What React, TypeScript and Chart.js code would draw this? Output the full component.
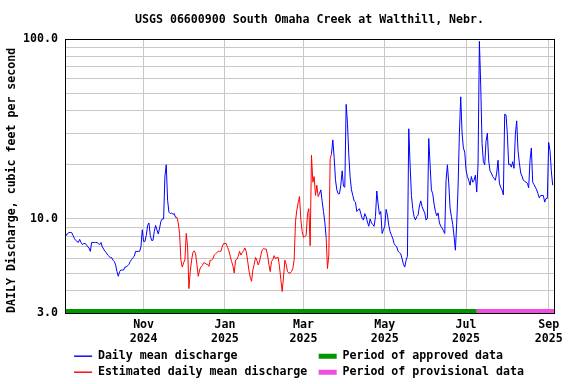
import { useEffect, useRef } from 'react';
import { Chart, registerables } from 'chart.js';

Chart.register(...registerables);

// ---- data (day 0 = 2024-09-03) ----
const dischargeCfs: number[] = [
  8.5, 8.1, 8.3, 8.4, 8.4, 8.4, 8.1, 7.8, 7.6, 7.5,
  7.4, 7.7, 7.4, 7.2, 7.3, 7.3, 7.2, 7.0, 6.9, 6.6,
  7.4, 7.4, 7.4, 7.4, 7.4, 7.3, 7.2, 7.4, 7.0, 6.8,
  6.6, 6.5, 6.3, 6.2, 6.1, 6.1, 5.9, 5.8, 5.55, 5.1,
  4.8, 5.1, 5.2, 5.2, 5.2, 5.4, 5.4, 5.5, 5.6, 5.8,
  5.95, 6.1, 6.2, 6.6, 6.6, 6.6, 6.6, 7.0, 8.7, 7.5,
  7.5, 8.1, 9.2, 9.5, 8.1, 7.6, 7.6, 8.5, 9.2, 8.7,
  8.25, 8.9, 9.7, 10.0, 10.0, 17.3, 20.0, 12.7, 10.9, 10.7,
  10.8, 10.6, 10.7, 10.2, 10.2, 9.5, 8.3, 5.9, 5.4, 5.7,
  5.95, 8.3, 7.0, 4.1, 5.1, 5.9, 6.5, 6.65, 6.4, 5.6,
  4.8, 5.2, 5.4, 5.5, 5.7, 5.7, 5.6, 5.6, 5.45, 5.9,
  5.9, 6.0, 6.3, 6.4, 6.5, 6.6, 6.6, 6.6, 7.0, 7.3,
  7.3, 7.3, 6.95, 6.65, 6.2, 5.8, 5.5, 5.0, 5.9, 5.95,
  6.2, 6.6, 6.3, 6.5, 6.65, 6.9, 6.6, 5.9, 5.2, 4.75,
  4.5, 5.2, 5.6, 6.1, 5.9, 5.55, 5.8, 6.3, 6.7, 6.85,
  6.8, 6.8, 6.3, 5.6, 5.1, 5.8, 5.95, 6.25, 6.0, 6.1,
  6.1, 5.4, 4.6, 3.95, 4.75, 5.9, 5.6, 5.1, 5.0, 5.0,
  5.1, 5.3, 5.95, 9.7, 11.2, 12.3, 13.3, 9.9, 8.5, 7.9,
  8.0, 8.1, 10.7, 11.4, 7.1, 22.6, 16.0, 17.2, 13.5, 15.4,
  13.3, 13.8, 14.5, 12.5, 11.0, 9.6, 7.9, 5.3, 6.3, 21.6,
  23.0, 27.5, 22.0, 16.5, 14.5, 13.8, 13.8, 15.4, 18.5, 15.2,
  15.0, 43.3, 34.0, 22.6, 17.0, 14.5, 13.5, 12.6, 12.4, 11.0,
  11.2, 11.4, 10.7, 10.1, 9.85, 10.7, 10.3, 9.6, 9.1, 10.0,
  9.5, 9.3, 9.1, 10.3, 14.3, 12.1, 10.6, 11.0, 8.3, 8.7,
  9.1, 11.3, 10.5, 9.2, 8.5, 8.1, 7.8, 7.3, 7.1, 7.0,
  6.6, 6.5, 6.4, 6.0, 5.6, 5.4, 5.9, 6.2, 31.7, 20.0,
  13.5, 11.4, 10.3, 9.85, 10.3, 10.5, 11.8, 12.6, 11.7, 11.2,
  10.8, 9.85, 10.1, 28.0, 20.0, 14.5, 13.8, 12.1, 11.0, 10.4,
  10.8, 9.5, 9.1, 8.9, 8.6, 8.3, 16.4, 20.0, 15.8, 11.5,
  10.3, 9.3, 8.0, 6.7, 9.5, 15.0, 30.0, 47.7, 30.0, 24.8,
  23.5, 18.7, 17.2, 16.4, 15.4, 17.2, 16.0, 16.4, 17.5, 14.1,
  20.2, 97.0, 55.6, 26.3, 20.8, 20.0, 27.0, 30.0, 21.0, 18.5,
  18.0, 17.2, 16.8, 16.4, 18.0, 21.2, 15.8, 15.0, 14.5, 13.6,
  38.2, 37.8, 29.5, 20.0, 20.2, 19.4, 20.8, 19.1, 29.5, 35.1,
  24.0, 20.5, 18.0, 17.3, 16.4, 16.2, 16.0, 15.8, 14.9, 21.2,
  24.8, 16.0, 15.5, 15.0, 14.5, 13.8, 13.1, 13.5, 13.5, 13.5,
  12.4, 13.0, 13.0, 26.6, 24.0, 18.5, 15.4,
];

// estimated (red) day ranges, endpoints shared with the blue line
const estimatedRanges: number[][] = [[83, 191], [196, 200]];
const approvedPeriod = [0, 309];
const provisionalPeriod = [309, 367];

const monthTickDays = [59, 120, 179, 240, 301, 363];
const monthTickLabels = [
  ['Nov', '2024'], ['Jan', '2025'], ['Mar', '2025'],
  ['May', '2025'], ['Jul', '2025'], ['Sep', '2025'],
];
const yGridValues = [3, 4, 5, 6, 7, 8, 9, 10, 20, 30, 40, 50, 60, 70, 80, 90, 100];
const yLabeledValues = [3, 10, 100];
const yLabelTexts = ['3.0', '10.0', '100.0'];

const seriesNames = [
  'Daily mean discharge',
  'Estimated daily mean discharge',
  'Period of approved data',
  'Period of provisional data',
];
const seriesColors = ['#0000ff', '#ff0000', '#009600', '#ee4ee0'];

const TITLE = 'USGS 06600900 South Omaha Creek at Walthill, Nebr.';
const Y_TITLE = 'DAILY Discharge, cubic feet per second';
const X_MIN = 0;
const X_MAX = 367;
const Y_MIN = 3;
const Y_MAX = 100;

const FONT_FAMILY = "'DejaVu Sans Mono', monospace";
const FONT_SIZE = 11.6;

const framePlugin = {
  id: 'frame',
  afterDatasetsDraw(chart: any) {
    const { ctx, chartArea: a } = chart;
    ctx.save();
    ctx.strokeStyle = '#000';
    ctx.lineWidth = 1;
    ctx.strokeRect(
      Math.round(a.left) + 0.5,
      Math.round(a.top) + 0.5,
      Math.round(a.right - a.left),
      Math.round(a.bottom - a.top)
    );
    ctx.restore();
  },
};

export default function App() {
  const ref = useRef<HTMLCanvasElement | null>(null);

  useEffect(() => {
    if (!ref.current) return;
    const inEst = (d: number, strict: boolean) =>
      estimatedRanges.some(([a, b]) => (strict ? d > a && d < b : d >= a && d <= b));

    const blueData = dischargeCfs.map((v, d) => ({ x: d, y: inEst(d, true) ? null : v }));
    const redData = dischargeCfs.map((v, d) => ({ x: d, y: inEst(d, false) ? v : null }));
    const approvedData = approvedPeriod.map((d) => ({ x: d, y: Y_MIN }));
    const provisionalData = provisionalPeriod.map((d) => ({ x: d, y: Y_MIN }));

    const font = { family: FONT_FAMILY, size: FONT_SIZE, weight: 'bold' as const };
    const legendOrder = [0, 2, 1, 3];
    const legendPad = [31, 31, 29, 29];
    const legendLine = [1, 1, 5, 5];

    const chart = new Chart(ref.current, {
      type: 'line',
      data: {
        datasets: [
          { label: seriesNames[0], data: blueData as any, borderColor: seriesColors[0], backgroundColor: seriesColors[0], borderWidth: 1, pointRadius: 0, tension: 0, spanGaps: false },
          { label: seriesNames[1], data: redData as any, borderColor: seriesColors[1], backgroundColor: seriesColors[1], borderWidth: 1, pointRadius: 0, tension: 0, spanGaps: false },
          { label: seriesNames[2], data: approvedData as any, borderColor: seriesColors[2], backgroundColor: seriesColors[2], borderWidth: 8, pointRadius: 0, clip: 0 as any },
          { label: seriesNames[3], data: provisionalData as any, borderColor: seriesColors[3], backgroundColor: seriesColors[3], borderWidth: 8, pointRadius: 0, clip: 0 as any },
        ],
      },
      options: {
        animation: false,
        responsive: false,
        devicePixelRatio: 1,
        layout: { padding: { top: 0, left: 0, right: 22, bottom: -4 } },
        plugins: {
          tooltip: { enabled: false },
          title: {
            display: true,
            text: TITLE,
            color: '#000',
            fullSize: false,
            font: { ...font, lineHeight: '14px' } as any,
            padding: { top: 13, bottom: 12 },
          },
          legend: {
            position: 'bottom',
            fullSize: false,
            labels: {
              boxWidth: 18,
              boxHeight: 0,
              padding: 4.4,
              color: '#000',
              font,
              generateLabels: (c: any) =>
                legendOrder.map((i) => ({
                  text: seriesNames[i].padEnd(legendPad[i], ' '),
                  fillStyle: seriesColors[i],
                  strokeStyle: seriesColors[i],
                  lineWidth: legendLine[i],
                  lineCap: 'butt',
                  hidden: false,
                  datasetIndex: i,
                  fontColor: '#000',
                })),
            },
          },
        },
        scales: {
          x: {
            type: 'linear',
            min: X_MIN,
            max: X_MAX,
            afterBuildTicks: (s: any) => {
              s.ticks = monthTickDays.map((v) => ({ value: v }));
            },
            afterFit: (s: any) => {
              s.height = 33;
              s.paddingLeft = 0;
              s.paddingRight = 0;
            },
            grid: { color: '#c8c8c8', lineWidth: 1, drawTicks: false },
            border: { display: false },
            ticks: {
              autoSkip: false,
              maxRotation: 0,
              minRotation: 0,
              padding: 5,
              color: '#000',
              font: { ...font, lineHeight: '14px' } as any,
              callback: (v: any) => {
                const i = monthTickDays.indexOf(Number(v));
                return i >= 0 ? monthTickLabels[i] : '';
              },
            },
          },
          y: {
            type: 'logarithmic',
            min: Y_MIN,
            max: Y_MAX,
            afterBuildTicks: (s: any) => {
              s.ticks = yGridValues.map((v) => ({ value: v }));
            },
            afterFit: (s: any) => {
              s.width = 65;
              s.paddingTop = 0;
              s.paddingBottom = 0;
            },
            grid: { color: '#c8c8c8', lineWidth: 1, drawTicks: false },
            border: { display: false },
            ticks: {
              autoSkip: false,
              padding: 7,
              color: '#000',
              font,
              callback: (v: any) => {
                const i = yLabeledValues.indexOf(Number(v));
                return i >= 0 ? yLabelTexts[i] : '';
              },
            },
            title: {
              display: true,
              text: Y_TITLE,
              align: 'start',
              color: '#000',
              font: { ...font, lineHeight: '14px' } as any,
              padding: { top: 5, bottom: 0 },
            },
          },
        },
      },
      plugins: [framePlugin],
    });
    return () => chart.destroy();
  }, []);

  return (
    <div style={{ position: 'absolute', left: 0, top: 0, width: 576, height: 384, background: '#fff' }}>
      <canvas ref={ref} width={576} height={384} style={{ display: 'block' }} />
    </div>
  );
}
